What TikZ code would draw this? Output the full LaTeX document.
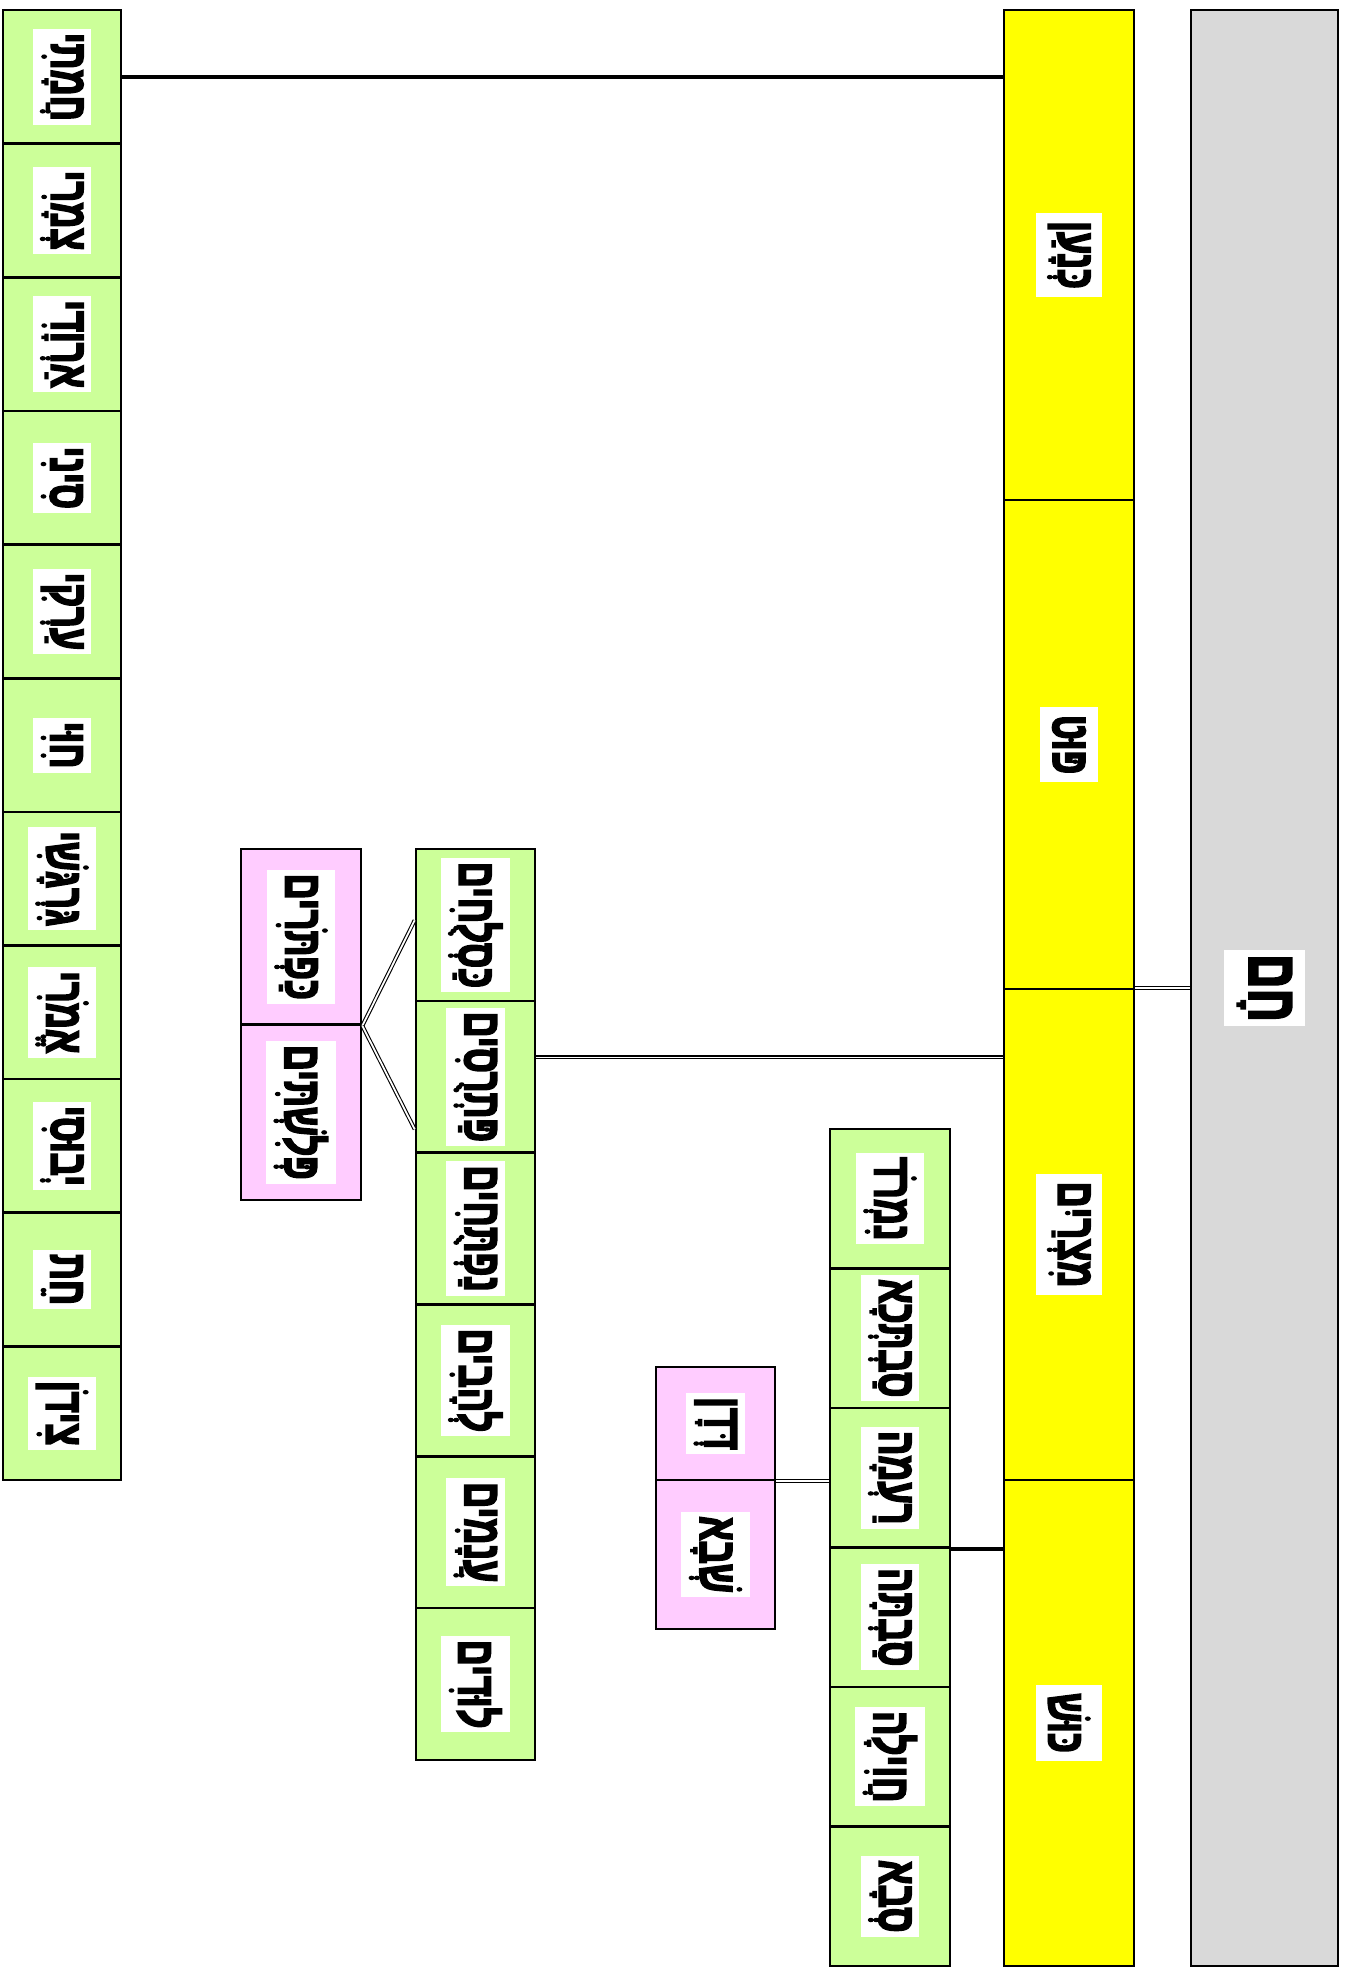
\documentclass[tikz,border=0pt]{standalone}
\usepackage{fontspec}
\newfontfamily\hebfont[Script=Hebrew, FakeStretch=0.68, FakeBold=3]{Liberation Sans Bold}
\TeXXeTstate=1
\newcommand{\hbw}[1]{{\hebfont\beginR #1\endR}}
\usetikzlibrary{calc}
\definecolor{grn}{HTML}{CCFF99}
\definecolor{pnk}{HTML}{FFCCFF}
\definecolor{ylw}{HTML}{FFFF00}
\definecolor{gry}{HTML}{D9D9D9}
\tikzset{
  box/.style={draw, line width=2.6pt, inner sep=0pt},
  gbox/.style={box, fill=grn},
  pbox/.style={box, fill=pnk},
  ybox/.style={box, fill=ylw},
  greybox/.style={box, fill=gry},
  lbl/.style={fill=white, rotate=-90, inner xsep=4pt, inner ysep=8pt, font=\fontsize{53}{63}\selectfont},
  ylbl/.style={lbl, inner xsep=8pt, inner ysep=12pt},
  biglbl/.style={lbl, inner xsep=4pt, inner ysep=13pt, font=\fontsize{70}{80}\selectfont},
  conn/.style={line width=3.5pt},
  dbl/.style={double, line width=1.1pt, double distance=1.8pt},
}
\begin{document}
\begin{tikzpicture}[x=1pt,y=-1pt]
\useasboundingbox (0,0) rectangle (1347,1975);
% grey root
\node[greybox, minimum width=147pt, minimum height=1956pt] (g) at (1264.5,988) {};
\node[biglbl] (gl) at (g.center) {\hbw{חָם}};
% yellow sons
\node[ybox, minimum width=130pt, minimum height=490pt] (y0) at (1069,255) {};
\node[ybox, minimum width=130pt, minimum height=489pt] (y1) at (1069,744.5) {};
\node[ybox, minimum width=130pt, minimum height=491pt] (y2) at (1069,1234.5) {};
\node[ybox, minimum width=130pt, minimum height=486pt] (y3) at (1069,1723) {};
\node[ylbl] (yl0) at (y0.center) {\hbw{כְּנָעַן}};
\node[ylbl] (yl1) at (y1.center) {\hbw{פּוּט}};
\node[ylbl] (yl2) at (y2.center) {\hbw{מִצְרַיִם}};
\node[ylbl] (yl3) at (y3.center) {\hbw{כּוּשׁ}};
% Canaan's sons
\foreach \t [count=\i from 0] in {חֲמָתִי, צְמָרִי, אַרְוָדִי, סִינִי, עַרְקִי, חִוִּי, גִּרְגָּשִׁי, אֱמֹרִי, יְבוּסִי, חֵת, צִידֹן} {
  \node[gbox, minimum width=118pt, minimum height=133.64pt] (c\i) at (62,{10+133.64*(\i+0.5)}) {};
  \node[lbl] (cl\i) at (c\i.center) {\hbw{\t}};
}
% Mizraim's sons
\foreach \t [count=\i from 0] in {כַּסְלֻחִים, פַּתְרֻסִים, נַפְתֻּחִים, לְהָבִים, עֲנָמִים, לוּדִים} {
  \node[gbox, minimum width=119pt, minimum height=151.83pt] (m\i) at (475.5,{849+151.83*(\i+0.5)}) {};
  \node[lbl] (ml\i) at (m\i.center) {\hbw{\t}};
}
\node[pbox, minimum width=120pt, minimum height=175.5pt] (pm0) at (301,936.75) {};
\node[pbox, minimum width=120pt, minimum height=175.5pt] (pm1) at (301,1112.25) {};
\node[lbl] (pml0) at (pm0.center) {\hbw{כַּפְתֹּרִים}};
\node[lbl] (pml1) at (pm1.center) {\hbw{פְּלִשְׁתִּים}};
% Cush's sons
\foreach \t [count=\i from 0] in {נִמְרֹד, סַבְתְּכָא, רַעְמָה, סַבְתָּה, חֲוִילָה, סְבָא} {
  \node[gbox, minimum width=120pt, minimum height=139.5pt] (k\i) at (890,{1129+139.5*(\i+0.5)}) {};
  \node[lbl] (kl\i) at (k\i.center) {\hbw{\t}};
}
\node[pbox, minimum width=119pt, minimum height=113pt] (pk0) at (715.5,1423.5) {};
\node[pbox, minimum width=119pt, minimum height=149pt] (pk1) at (715.5,1554.5) {};
\node[lbl] (pkl0) at (pk0.center) {\hbw{דְּדָן}};
\node[lbl] (pkl1) at (pk1.center) {\hbw{שְׁבָא}};
% connectors
\draw[dbl] (g.west) -- (g.west -| y1.east);
\draw[conn] (c0.east) -- (c0.east -| y0.west);
\coordinate (mj) at ($(m1.north east)!0.375!(m1.south east)$);
\draw[dbl] (mj) -- (mj -| y2.west);
\draw[conn] (k2.south east) -- (k2.south east -| y3.west);
\draw[dbl] (pk0.south east) -- (pk0.south east -| k2.west);
\coordinate (mt) at ($(m0.north west)!0.47!(m0.south west)$);
\coordinate (mb) at ($(m1.north west)!0.84!(m1.south west)$);
\draw[dbl] (pm0.south east) -- (mt);
\draw[dbl] (pm0.south east) -- (mb);
\end{tikzpicture}
\end{document}
